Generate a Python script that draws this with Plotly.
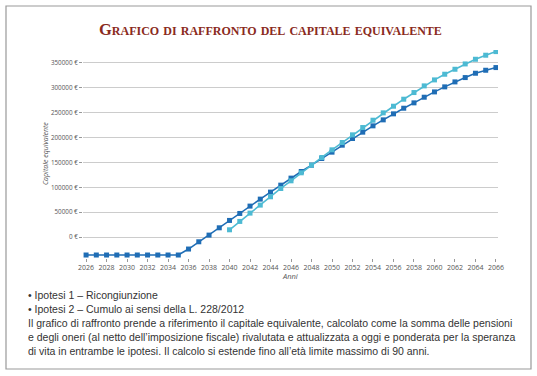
import plotly.graph_objects as go

years = list(range(2026, 2067))
ricongiunzione = [-36000]*10 + [-24000, -9400, 4000, 18700, 33500, 47500, 62300, 76300, 90400, 104400,
                  118500, 131900, 144600, 158000, 170700, 184700, 198100, 210900, 223600, 235600,
                  247700, 259000, 269800, 281100, 291800, 301900, 311900, 320600, 329300, 335300, 340700]
years_cumulo = list(range(2040, 2067))
cumulo = [14700, 31500, 48200, 64300, 81000, 97700, 113100, 129200, 144600, 160000,
          175400, 190100, 205500, 220200, 234900, 249700, 263000, 277100, 290500, 303900,
          315900, 327300, 337300, 348000, 357400, 365500, 372800]
y_ticks = [0, 50000, 100000, 150000, 200000, 250000, 300000, 350000]
y_tick_labels = [f"{v} €" for v in y_ticks]
x_ticks = list(range(2026, 2067, 2))

title_text = "Grafico di raffronto del capitale equivalente"
notes = [
    "• Ipotesi 1 – Ricongiunzione",
    "• Ipotesi 2 – Cumulo ai sensi della L. 228/2012",
    "Il grafico di raffronto prende a riferimento il capitale equivalente, calcolato come la somma delle pensioni",
    "e degli oneri (al netto dell’imposizione fiscale) rivalutata e attualizzata a oggi e ponderata per la speranza",
    "di vita in entrambe le ipotesi. Il calcolo si estende fino all’età limite massimo di 90 anni.",
]

W, H = 537, 376
DARK = "#1f6db5"
LIGHT = "#4dbad3"

fig = go.Figure()
fig.add_trace(go.Scatter(x=years, y=ricongiunzione, mode="lines+markers", name="Ipotesi 1",
                         line=dict(color=DARK, width=1.6),
                         marker=dict(symbol="square", size=5, color=DARK)))
fig.add_trace(go.Scatter(x=years_cumulo, y=cumulo, mode="lines+markers", name="Ipotesi 2",
                         line=dict(color=LIGHT, width=1.6),
                         marker=dict(symbol="square", size=5, color=LIGHT)))

def px(x):
    return x / W

def py(y):
    return 1 - y / H

annotations = [
    dict(text=title_text, x=px(270), y=py(30), xref="paper", yref="paper", showarrow=False,
         xanchor="center", yanchor="middle",
         font=dict(family="Liberation Serif", size=16.5, color="#8a2a20", variant="small-caps", weight="bold")),
    dict(text="<i>Capitale equivalente</i>", x=px(46), y=py(154), xref="paper", yref="paper",
         showarrow=False, textangle=-90, xanchor="center", yanchor="middle",
         font=dict(family="Open Sans", size=7, color="#555555")),
    dict(text="<i>Anni</i>", x=px(290), y=py(276), xref="paper", yref="paper", showarrow=False,
         xanchor="center", yanchor="middle", font=dict(family="Open Sans", size=7.5, color="#555555")),
]
line_y = [295, 309, 323, 337, 351]
for t, yy in zip(notes, line_y):
    annotations.append(dict(text=t, x=px(26), y=py(yy), xref="paper", yref="paper", showarrow=False,
                            xanchor="left", yanchor="middle",
                            font=dict(family="Liberation Sans", size=10.5, color="#333333")))

fig.update_layout(
    width=W, height=H,
    margin=dict(l=0, r=0, t=0, b=0),
    paper_bgcolor="white", plot_bgcolor="white",
    showlegend=False,
    xaxis=dict(domain=[px(83), px(498)], range=[2025.7, 2066.2], tickmode="array", tickvals=x_ticks,
               ticks="outside", ticklen=3, tickcolor="#999999", showgrid=False, zeroline=False,
               showline=False, tickfont=dict(family="Open Sans", size=7, color="#555555"), automargin=False),
    yaxis=dict(domain=[py(258), py(50)], range=[-42000, 376000], tickmode="array", tickvals=y_ticks,
               ticktext=y_tick_labels, ticks="outside", ticklen=3, tickcolor="#999999",
               showgrid=True, gridcolor="#cccccc", gridwidth=1.2, zeroline=False, showline=False,
               tickfont=dict(family="Open Sans", size=6.3, color="#555555"), automargin=False),
    annotations=annotations,
    shapes=[dict(type="rect", xref="paper", yref="paper", x0=px(6), x1=px(531), y0=py(369), y1=py(6),
                 line=dict(color="#999999", width=1.2))],
)
fig.write_html("out.html", config={"displayModeBar": False},
               post_script="document.body.style.margin='0';document.body.style.overflow='hidden';")
